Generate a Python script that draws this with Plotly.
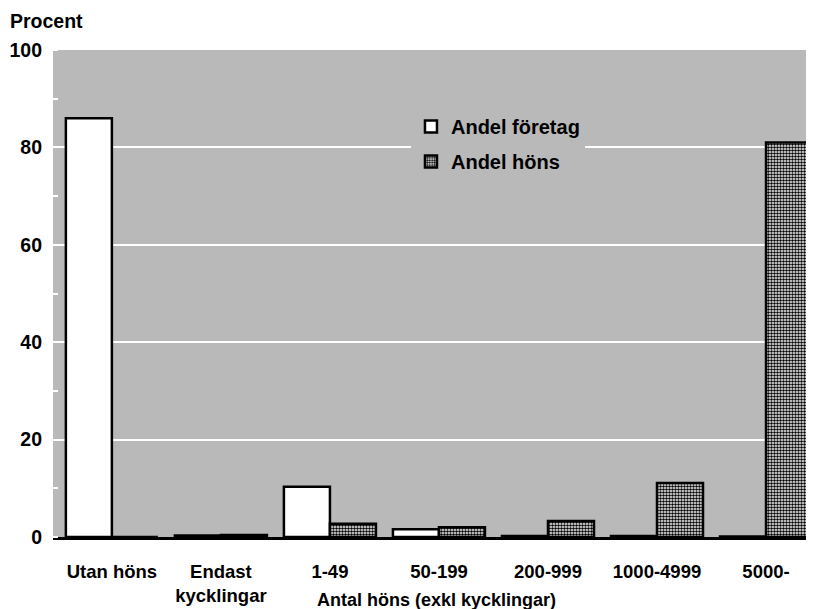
import plotly.graph_objects as go

categories = ["Utan höns", "Endast<br>kycklingar", "1-49", "50-199", "200-999", "1000-4999", "5000-"]
andel_foretag = [86.0, 0.3, 10.3, 1.6, 0.2, 0.2, 0.1]
andel_hons = [0.0, 0.4, 2.7, 2.0, 3.3, 11.1, 81.0]
y_ticks = [0, 20, 40, 60, 80, 100]

BG = "#b9b9b9"
FONT = "Liberation Sans, Arial, Helvetica, sans-serif"

fig = go.Figure()
fig.add_trace(go.Bar(
    x=list(range(len(categories))), y=andel_foretag, name="Andel företag",
    marker=dict(color="white", line=dict(color="black", width=2.5)),
    legendgroup="a",
))
fig.add_trace(go.Bar(
    x=list(range(len(categories))), y=andel_hons, name="Andel höns",
    marker=dict(color="white", line=dict(color="black", width=2.5),
                pattern=dict(shape=".", fgcolor="black", bgcolor="white",
                             size=3, solidity=0.55, fillmode="replace")),
    legendgroup="b",
))

fig.update_layout(
    width=806, height=601,
    margin=dict(l=45, r=0, t=42, b=72),
    paper_bgcolor="white", plot_bgcolor=BG,
    barmode="group", bargap=0.156, bargroupgap=0,
    font=dict(family=FONT, size=19, color="black", weight="bold"),
    showlegend=True,
    legend=dict(x=0.4704, y=0.883, xanchor="left", yanchor="top",
                bgcolor=BG, borderwidth=0,
                font=dict(size=20, weight="bold"),
                traceorder="grouped", tracegroupgap=6,
                itemwidth=30),
    xaxis=dict(
        tickmode="array", tickvals=list(range(len(categories))), ticktext=categories,
        range=[-0.54, 6.44], showgrid=False, zeroline=False,
        showline=True, linecolor="black", linewidth=2.5,
        ticks="", ticklabelstandoff=16, automargin=False,
        tickfont=dict(size=18.5, weight="bold"),
    ),
    yaxis=dict(
        range=[0, 100], tickmode="array", tickvals=y_ticks,
        showgrid=True, gridcolor="white", gridwidth=2,
        zeroline=False, showline=False, ticks="", automargin=False,
        tickfont=dict(size=19.5, weight="bold"), ticklabelstandoff=10,
        minor=dict(ticks="inside", dtick=10, tickcolor="white", ticklen=5,
                   tickwidth=2, showgrid=False),
    ),
    annotations=[
        dict(text="Procent", xref="paper", yref="paper", x=-0.059, y=1.0595,
             xanchor="left", yanchor="middle", showarrow=False,
             font=dict(size=19.5, weight="bold")),
        dict(text="Antal höns (exkl kycklingar)", xref="x", yref="paper",
             x=2.98, y=-0.129, xanchor="center", yanchor="middle", showarrow=False,
             font=dict(size=18, weight="bold")),
    ],
)

fig.write_html("out.html")
